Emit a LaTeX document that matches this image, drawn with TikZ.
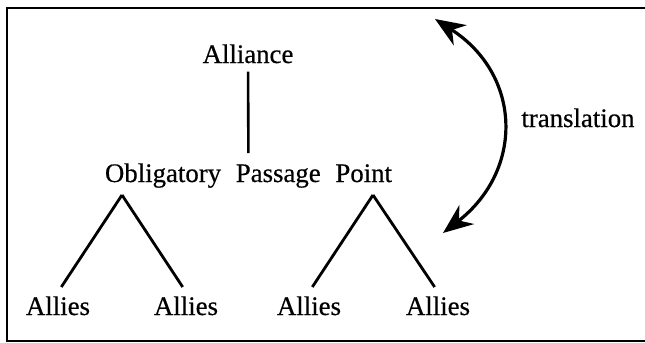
\documentclass[tikz,border=0pt]{standalone}
\usepackage{fontspec}
\setmainfont{Liberation Serif}[BoldFont={Liberation Serif}, BoldFeatures={FakeBold=0.5}]
\usetikzlibrary{arrows.meta}

\begin{document}
\begin{tikzpicture}[x=0.5pt,y=-0.5pt,
  lbl/.style={font=\fontsize{13.4}{16}\selectfont\bfseries, anchor=base, inner sep=2pt},
  leg/.style={line width=1.4pt, shorten >=3pt}]
\useasboundingbox (0,0) rectangle (645,343);
\clip (0,0) rectangle (645,343);
\draw [line width=1.2pt] (7,8) rectangle (660,341);
\node [lbl] (alliance) at (248,63) {Alliance};
\node [lbl] (opp) at (248.5,182) {Obligatory\hspace{0.55em}Passage\hspace{0.55em}Point};
\draw [line width=1.3pt, shorten <=2pt, shorten >=3pt] (alliance) -- (opp);
\node [lbl] (ally1) at (58,315) {Allies};
\node [lbl] (ally2) at (186,315) {Allies};
\node [lbl] (ally3) at (309,315) {Allies};
\node [lbl] (ally4) at (438,315) {Allies};
\coordinate (lfork) at (122,195);
\coordinate (rfork) at (373,195);
\draw [leg] (lfork) -- (ally1.north);
\draw [leg] (lfork) -- (ally2.north);
\draw [leg] (rfork) -- (ally3.north);
\draw [leg] (rfork) -- (ally4.north);
\node [lbl] (transl) at (578,127) {translation};
\coordinate (ttop) at (435,19);
\coordinate (tbot) at (443,233);
\draw [line width=1.6pt, {Stealth[length=15pt,width=12pt]}-{Stealth[length=15pt,width=12pt]}]
  (ttop) .. controls (522,75) and (524,170) .. (tbot);
\end{tikzpicture}
\end{document}
